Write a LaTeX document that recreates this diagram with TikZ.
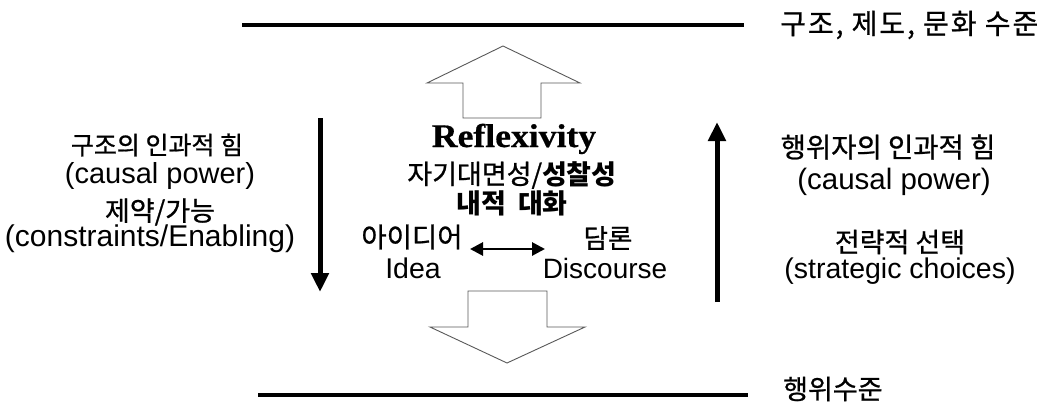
\documentclass[tikz,border=0pt]{standalone}
\usepackage{fontspec}
\setmainfont{Liberation Sans}
\newfontfamily\kr[FakeBold=0.8]{Noto Sans CJK KR}
\newfontfamily\krb{Noto Sans CJK KR}
\newfontfamily\krls[FakeBold=0.8,LetterSpace=7]{Noto Sans CJK KR}
\newfontfamily\rf[FakeStretch=1.08,FakeBold=0.6]{Liberation Serif}
\usetikzlibrary{arrows.meta}
\tikzset{
  lvl/.style={line width=3.5pt},
  ktxt/.style={font=\kr\fontsize{#1}{#1}\selectfont, inner sep=0pt},
  ktxt/.default=25,
  etxt/.style={font=\fontsize{#1}{#1}\selectfont, inner sep=0pt},
  etxt/.default=28,
  hollow/.style={draw=black!65, line width=0.9pt, fill=white, line join=miter},
  force/.style={line width=5pt, -{Triangle[length=19pt,width=17pt]}},
  dbl/.style={line width=2.8pt, {Triangle[length=13pt,width=13pt]}-{Triangle[length=13pt,width=13pt]}}
}
\begin{document}
\begin{tikzpicture}[x=1pt,y=-1pt]
\useasboundingbox (0,0) rectangle (1045,407);
% level lines
\coordinate (t1) at (242,25);
\coordinate (t2) at (744,25);
\draw[lvl] (t1) -- (t2);
\node[inner sep=0pt, anchor=west, font=\krls\fontsize{28}{28}\selectfont] (toplbl) at (780,25) {구조, 제도, 문화 수준};
\coordinate (b1) at (258,395);
\coordinate (b2) at (748,395);
\draw[lvl] (b1) -- (b2);
\node[ktxt=27, anchor=west] (botlbl) at (783,389) {행위수준};
% hollow arrows
\draw[hollow] (463,118) -- (463,83) -- (427,83) -- (503,46) -- (580,83) -- (541,83) -- (541,118) -- cycle;
\draw[hollow] (468,291) -- (547,291) -- (547,327) -- (585,327) -- (507,363) -- (430,327) -- (468,327) -- cycle;
% force arrows
\coordinate (l1) at (320,118);
\coordinate (l2) at (320,292);
\draw[force] (l1) -- (l2);
\coordinate (r1) at (717,302);
\coordinate (r2) at (717,122);
\draw[force] (r1) -- (r2);
% left texts
\node[ktxt=25] (lk1) at (157,145) {구조의 인과적 힘};
\node[etxt=29] (le1) at (160,176) {(causal power)};
\node[ktxt=27] (lk2) at (160,212) {제약/가능};
\node[etxt=30] (le2) at (150,239) {(constraints/Enabling)};
% right texts
\node[ktxt=27.5] (rk1) at (888,147) {행위자의 인과적 힘};
\node[etxt=29.5] (re1) at (894,182) {(causal power)};
\node[ktxt=27] (rk2) at (900,242) {전략적 선택};
\node[etxt=28.5] (re2) at (900,271) {(strategic choices)};
% center texts
\node[font=\rf\bfseries\fontsize{33}{35}\selectfont, inner sep=0pt, anchor=base] (refl) at (514,147) {Reflexivity};
\node[ktxt=27] (c1) at (512,175) {자기대면성/{\krb\bfseries 성찰성}};
\node[inner sep=0pt, font=\krb\bfseries\fontsize{27}{27}\selectfont] (c2) at (512,203) {내적\hspace{0.45em}대화};
\node[ktxt=27.5] (idk) at (412,237) {아이디어};
\node[etxt=28.5] (ide) at (413,268) {Idea};
\node[ktxt=26.5] (dk) at (608,238) {담론};
\node[etxt=28] (de) at (605,268) {Discourse};
\coordinate (d1) at (470,249);
\coordinate (d2) at (545,249);
\draw[dbl] (d1) -- (d2);
\end{tikzpicture}
\end{document}
